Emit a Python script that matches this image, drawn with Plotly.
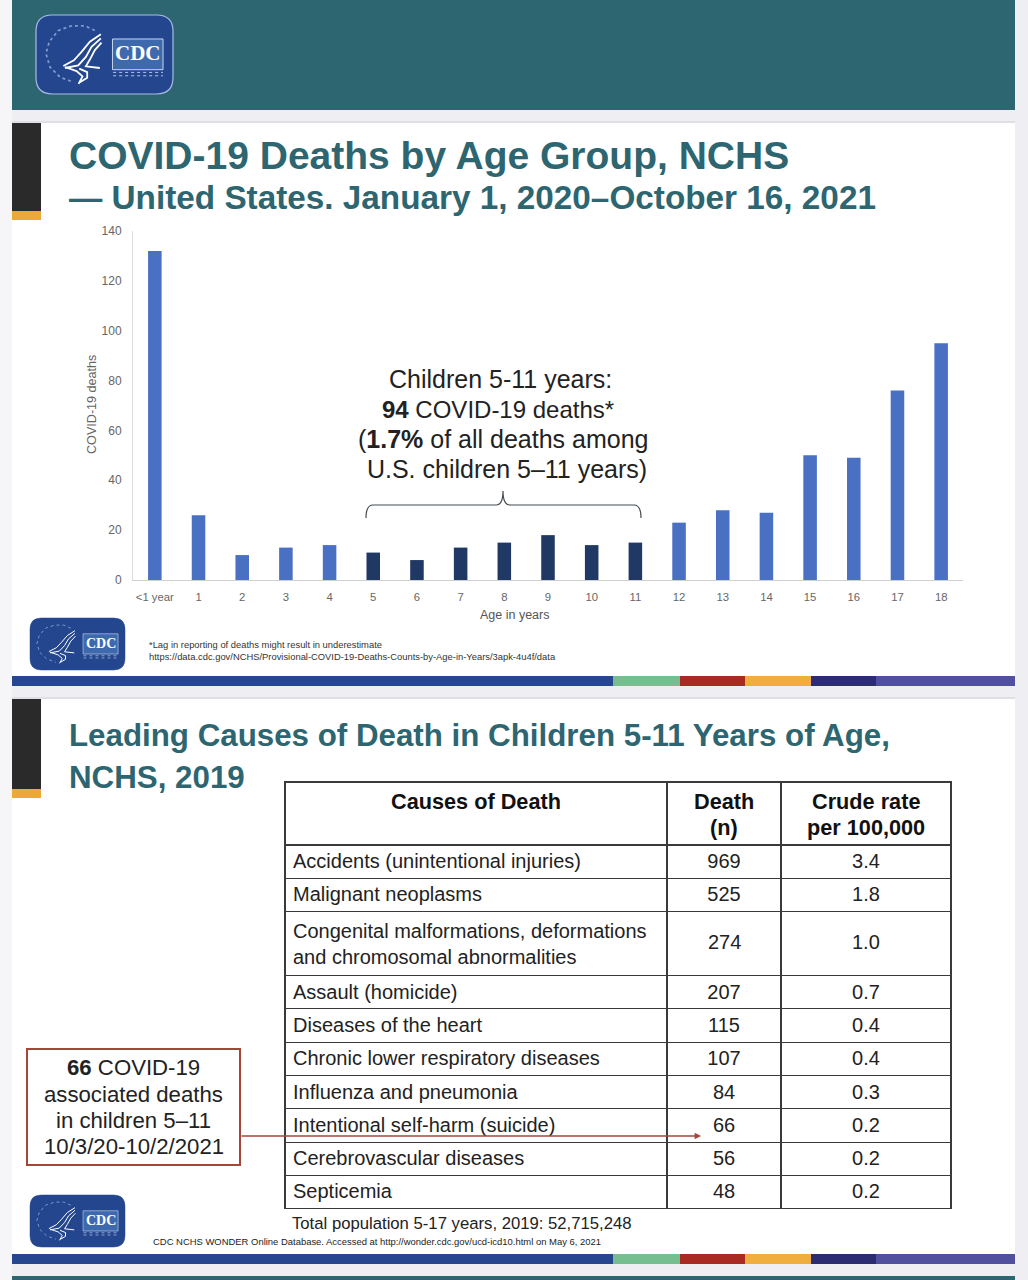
import plotly.graph_objects as go

W, H = 1028, 1280

# ---- chart data
ages = ["<1 year", "1", "2", "3", "4", "5", "6", "7", "8", "9", "10", "11", "12", "13", "14", "15", "16", "17", "18"]
deaths = [132, 26, 10, 13, 14, 11, 8, 13, 15, 18, 14, 15, 23, 28, 27, 50, 49, 76, 95]
highlight_ages = ["5", "6", "7", "8", "9", "10", "11"]
y_ticks = [0, 20, 40, 60, 80, 100, 120, 140]

# ---- table data
causes = [
    "Accidents (unintentional injuries)",
    "Malignant neoplasms",
    "Congenital malformations, deformations<br>and chromosomal abnormalities",
    "Assault (homicide)",
    "Diseases of the heart",
    "Chronic lower respiratory diseases",
    "Influenza and pneumonia",
    "Intentional self-harm (suicide)",
    "Cerebrovascular diseases",
    "Septicemia",
]
death_n = [969, 525, 274, 207, 115, 107, 84, 66, 56, 48]
crude_rate = ["3.4", "1.8", "1.0", "0.7", "0.4", "0.4", "0.3", "0.2", "0.2", "0.2"]
table_header = [["Causes of Death"], ["Death", "(n)"], ["Crude rate", "per 100,000"]]
TALL_ROW = 2  # the two-line row: its numbers sit at mid height of the row

TEAL = "#2d6670"
BLUE = "#4a70c4"
NAVY = "#1f3864"
FONT = "Liberation Sans"


def px(x):
    return x / W


def py(y):
    return 1 - y / H


shapes, annotations = [], []


def rect(x0, y0, x1, y1, fill, line=None, lw=0, layer="below"):
    shapes.append(dict(type="rect", xref="paper", yref="paper", x0=px(x0), x1=px(x1), y0=py(y0), y1=py(y1),
                       fillcolor=fill, line=dict(color=line or fill, width=lw), layer=layer))


def text(x, y, s, size, color="#222222", anchor="left", bold=False, angle=0, family=FONT):
    annotations.append(dict(xref="paper", yref="paper", x=px(x), y=py(y), text=f"<b>{s}</b>" if bold else s,
                            showarrow=False, xanchor=anchor, yanchor="middle", align=anchor,
                            font=dict(size=size, color=color, family=family), textangle=angle,
                            borderpad=0, borderwidth=0))


def path(d, color, width, fill=None, layer="above", dash=None):
    shapes.append(dict(type="path", xref="paper", yref="paper", path=d, layer=layer,
                       fillcolor=fill or "rgba(0,0,0,0)", line=dict(color=color, width=width, dash=dash or "solid")))


def pts_path(points, closed=False):
    d = "M " + " L ".join(f"{px(a):.5f},{py(b):.5f}" for a, b in points)
    return d + (" Z" if closed else "")


def logo(x0, y0, x1, y1, big):
    w, h = x1 - x0, y1 - y0
    mx = lambda a: x0 + (a - 108) / 412 * w
    my = lambda b: y0 + (b - 46) / 234 * h
    r = 0.12 * w
    d = (f"M {px(x0+r)},{py(y0)} L {px(x1-r)},{py(y0)} Q {px(x1)},{py(y0)} {px(x1)},{py(y0+r)} "
         f"L {px(x1)},{py(y1-r)} Q {px(x1)},{py(y1)} {px(x1-r)},{py(y1)} L {px(x0+r)},{py(y1)} "
         f"Q {px(x0)},{py(y1)} {px(x0)},{py(y1-r)} L {px(x0)},{py(y0+r)} Q {px(x0)},{py(y0)} {px(x0+r)},{py(y0)} Z")
    path(d, "#a9bde3" if big else "#23468f", 1.2 if big else 0.5, fill="#23468f")
    ring = [(285, 92), (255, 78), (215, 78), (175, 92), (148, 125), (138, 160), (150, 200), (180, 230), (220, 245)]
    path(pts_path([(mx(a), my(b)) for a, b in ring]), "#7f97cc", 1.8 if big else 1.0, dash="dot")
    k = 1.8 if big else 1.0
    for stroke in (
        [(303, 103), (270, 125), (245, 155), (222, 180), (190, 197)],
        [(303, 115), (275, 140), (258, 170), (235, 195), (195, 203)],
        [(305, 128), (285, 150), (270, 178), (258, 198), (300, 203)],
        [(195, 200), (230, 212), (248, 228), (236, 250)],
        [(238, 205), (262, 215), (262, 232), (240, 245)],
    ):
        path(pts_path([(mx(a), my(b)) for a, b in stroke]), "white", k)
    rect(mx(338), my(117), mx(490), my(208), "#3f69ad", "#c7d6ee", 1 if big else 0.6, layer="above")
    text((mx(338) + mx(490)) / 2, my(160), "CDC", 21 if big else 14, "white", "center", True, family="Liberation Serif")
    for yy in (216, 226):
        shapes.append(dict(type="line", xref="paper", yref="paper", x0=px(mx(340)), x1=px(mx(490)),
                           y0=py(my(yy)), y1=py(my(yy)), layer="above",
                           line=dict(color="#b8c8e6", width=1.0 if big else 0.7, dash="dot")))


def strip(y0, y1):
    segs = [(12, 613, "#26478f"), (613, 680, "#76bd8f"), (680, 745, "#a82a22"),
            (745, 811, "#f0ae3e"), (811, 876, "#2c2c73"), (876, 1015, "#50509f")]
    for a, b, c in segs:
        rect(a, y0, b, y1, c)


# ---- page & panels
rect(0, 0, W, H, "#eeeef3")
rect(0, 0, 12, H, "#f6f6f9")
rect(12, 0, 1015, 110, TEAL)
rect(12, 1276, 1015, 1280, TEAL)
rect(12, 121, 1015, 123, "#dfdfe4")
rect(12, 697, 1015, 699, "#dfdfe4")
rect(12, 123, 1015, 686, "white")
rect(12, 699, 1015, 1264, "white")
rect(12, 123, 41, 211, "#2a2a2a")
rect(12, 211, 41, 220, "#eba93a")
rect(12, 699, 41, 789, "#2a2a2a")
rect(12, 789, 41, 798, "#eba93a")
strip(676, 686)
strip(1254, 1264)

logo(36, 15, 173, 94, True)
logo(30, 618, 125, 670, False)
logo(30, 1195, 125, 1247, False)

# ---- titles
text(69, 156, "COVID-19 Deaths by Age Group, NCHS", 39, TEAL, bold=True)
text(69, 198, "— United States. January 1, 2020–October 16, 2021", 33.3, TEAL, bold=True)
text(69, 735, "Leading Causes of Death in Children 5-11 Years of Age,", 31.3, TEAL, bold=True)
text(69, 777, "NCHS, 2019", 31.3, TEAL, bold=True)

# ---- chart callout
for x, y, s, size in [(500, 379, "Children 5-11 years:", 25), (497.5, 409, "<b>94</b> COVID-19 deaths*", 24),
                      (503, 439, "(<b>1.7%</b> of all deaths among", 25), (503, 469, " U.S. children 5–11 years)", 25)]:
    text(x, y, s, size, "#222222", "center")
bx = px
by = py
path(f"M {bx(366)},{by(518)} Q {bx(366)},{by(505)} {bx(373)},{by(505)} L {bx(496)},{by(505)} "
     f"Q {bx(503)},{by(505)} {bx(503)},{by(491)} Q {bx(503)},{by(505)} {bx(510)},{by(505)} "
     f"L {bx(634)},{by(505)} Q {bx(641)},{by(505)} {bx(641)},{by(518)}", "#444a50", 1.2)

# ---- chart footnotes and axis captions
text(92, 405, "COVID-19 deaths", 12.6, "#666666", "center", angle=-90)
text(514, 615, "Age in years", 12.5, "#555555", "center")
text(149, 644, "*Lag in reporting of deaths might result in underestimate", 9.4, "#333333")
text(149, 656, "https://data.cdc.gov/NCHS/Provisional-COVID-19-Deaths-Counts-by-Age-in-Years/3apk-4u4f/data", 9.4, "#333333")

# ---- lower slide callout
rect(27, 1049, 240, 1165, "white", "#a5463a", 2, layer="above")
for y, s in [(1067, "<b>66</b> COVID-19"), (1094, "associated deaths"), (1120, "in children 5–11"), (1146, "10/3/20-10/2/2021")]:
    text(133.5, y, s, 22.2, "#222222", "center")
annotations.append(dict(xref="paper", yref="paper", x=px(701), y=py(1136), ax=-461, ay=0, axref="pixel", ayref="pixel",
                        text="", showarrow=True, arrowhead=2, arrowsize=0.8, arrowwidth=1.6, arrowcolor="#a5463a"))
text(292, 1223, "Total population 5-17 years, 2019: 52,715,248", 16.7, "#222222")
text(153, 1241, "CDC NCHS WONDER Online Database. Accessed at http://wonder.cdc.gov/ucd-icd10.html on May 6, 2021", 9.45, "#222222")

# the two numbers of the tall row are set mid-row; the table trace would top-align them
text(724, 942, str(death_n[TALL_ROW]), 20, "#222222", "center")
text(866, 942, crude_rate[TALL_ROW], 20, "#222222", "center")
table_deaths = ["" if i == TALL_ROW else v for i, v in enumerate(death_n)]
table_rates = ["" if i == TALL_ROW else v for i, v in enumerate(crude_rate)]

# header captions: set apart so their size can exceed what the fixed header row allows
for cx, lines in zip((476, 724, 866), table_header):
    for y, line in zip((801, 827), lines):
        text(cx, y, line, 21.7, "#111111", "center", True)

fig = go.Figure()
fig.add_trace(go.Bar(
    x=ages, y=deaths, width=0.31,
    marker=dict(color=[NAVY if a in highlight_ages else BLUE for a in ages], line=dict(width=0)),
    hoverinfo="x+y", showlegend=False,
))
fig.add_trace(go.Table(
    domain=dict(x=[px(285), px(951)], y=[py(1212), py(782)]),
    columnwidth=[382, 114, 170],
    header=dict(values=["", "", ""], height=63, fill_color="white", line=dict(color="#3a3a3a", width=1.1),
                font=dict(size=20, color="#111111", family=FONT)),
    cells=dict(values=[causes, table_deaths, table_rates], height=33.3, align=["left", "center", "center"],
               fill_color="white", line=dict(color="#3a3a3a", width=1.1),
               font=dict(size=20, color="#222222", family=FONT)),
))

fig.update_layout(
    width=W, height=H, margin=dict(l=0, r=0, t=0, b=0, pad=0), autosize=False,
    paper_bgcolor="#eeeef3", plot_bgcolor="rgba(0,0,0,0)", showlegend=False,
    shapes=shapes, annotations=annotations, font=dict(family=FONT),
    xaxis=dict(domain=[px(133), px(963)], type="category", categoryorder="array", categoryarray=ages,
               automargin=False, showline=True, linecolor="#cfcfcf", linewidth=1.3, ticks="", showgrid=False,
               tickfont=dict(size=11.3, color="#666666", family=FONT), tickangle=0, zeroline=False,
               ticklabelstandoff=6),
    yaxis=dict(domain=[py(580), py(231)], range=[0, 140], tickvals=y_ticks, automargin=False,
               showline=True, linecolor="#dddddd", linewidth=1, ticks="", showgrid=False, zeroline=False,
               ticklabelstandoff=8, tickfont=dict(size=12, color="#666666", family=FONT)),
)

fig.write_html("out.html", post_script="document.body.style.margin='0';", config=dict(displayModeBar=False))
